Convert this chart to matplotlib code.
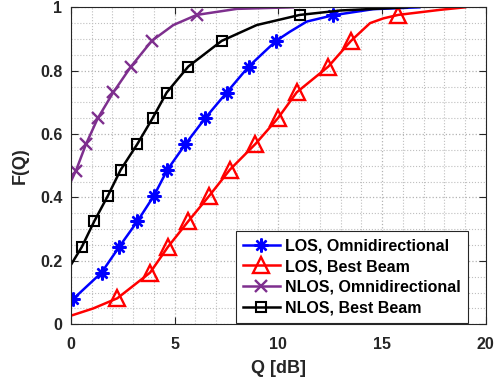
import matplotlib
matplotlib.use("Agg")
import matplotlib.pyplot as plt
from matplotlib.ticker import MultipleLocator


# CDF curves, Q in dB
los_omni_q = [0, 0.12, 1.48, 2.34, 3.21, 4.01, 4.65, 5.52, 6.47, 7.51, 8.57, 9.89, 10.56, 11.37, 12.65, 14.56, 16.8]
los_omni_f = [0.072, 0.080, 0.163, 0.245, 0.325, 0.406, 0.487, 0.568, 0.650, 0.731, 0.813, 0.894, 0.923, 0.955, 0.975, 0.994, 1.0]
los_omni_marks = [1, 2, 3, 4, 5, 6, 7, 8, 9, 10, 11, 14]

los_beam_q = [0, 1.08, 2.24, 3.82, 4.68, 5.66, 6.68, 7.67, 8.90, 9.98, 10.89, 12.41, 13.50, 14.42, 15.06, 15.78, 17.8, 19.0]
los_beam_f = [0.027, 0.050, 0.082, 0.163, 0.244, 0.325, 0.406, 0.488, 0.569, 0.650, 0.732, 0.813, 0.894, 0.950, 0.965, 0.976, 0.992, 1.0]
los_beam_marks = [2, 3, 4, 5, 6, 7, 8, 9, 10, 11, 12, 15]

nlos_omni_q = [0, 0.25, 0.73, 1.30, 2.05, 2.90, 3.90, 4.94, 6.07, 8.0, 10.7]
nlos_omni_f = [0.45, 0.485, 0.568, 0.650, 0.732, 0.813, 0.894, 0.944, 0.976, 0.995, 1.0]
nlos_omni_marks = [1, 2, 3, 4, 5, 6, 8]

nlos_beam_q = [0, 0.53, 1.13, 1.79, 2.40, 3.20, 3.94, 4.62, 5.66, 7.27, 8.96, 11.04, 13.0, 16.2]
nlos_beam_f = [0.187, 0.244, 0.325, 0.406, 0.487, 0.568, 0.650, 0.731, 0.813, 0.894, 0.944, 0.976, 0.99, 1.0]
nlos_beam_marks = [1, 2, 3, 4, 5, 6, 7, 8, 9, 11]

labels = ["LOS, Omnidirectional", "LOS, Best Beam", "NLOS, Omnidirectional", "NLOS, Best Beam"]
x_ticks = [0, 5, 10, 15, 20]
y_ticks = [0, 0.2, 0.4, 0.6, 0.8, 1]
y_tick_labels = ["0", "0.2", "0.4", "0.6", "0.8", "1"]

plt.rcParams["font.family"] = ["Liberation Sans", "DejaVu Sans"]
plt.rcParams["font.weight"] = "bold"
dark = (0.15, 0.15, 0.15)

fig = plt.figure(figsize=(5.04, 3.84), dpi=100)
ax = fig.add_axes([0.1405, 0.1555, 0.8234, 0.8255])

ax.plot(los_omni_q, los_omni_f, color="blue", lw=1.8, marker=(8, 2, 0), ms=10, mew=1.7,
        markevery=los_omni_marks, label=labels[0])
ax.plot(los_beam_q, los_beam_f, color="red", lw=1.8, marker="^", ms=12, mew=1.7, mfc="none",
        markevery=los_beam_marks, label=labels[1])
ax.plot(nlos_omni_q, nlos_omni_f, color=(0.494, 0.184, 0.556), lw=1.8, marker="x", ms=8, mew=1.7,
        markevery=nlos_omni_marks, label=labels[2])
ax.plot(nlos_beam_q, nlos_beam_f, color="black", lw=1.8, marker="s", ms=7.5, mew=1.5, mfc="none",
        markevery=nlos_beam_marks, label=labels[3])

ax.set_xlim(0, 20)
ax.set_ylim(0, 1)
ax.set_xticks(x_ticks)
ax.set_yticks(y_ticks)
ax.set_yticklabels(y_tick_labels)
ax.xaxis.set_minor_locator(MultipleLocator(1))
ax.yaxis.set_minor_locator(MultipleLocator(0.05))

# matlab style grid, dotted major and minor
ax.grid(which="major", color=(0.7, 0.7, 0.7), linestyle=":", lw=0.9)
ax.grid(which="minor", color=(0.75, 0.75, 0.75), linestyle=":", lw=0.8)
ax.set_axisbelow(True)

ax.tick_params(which="major", direction="in", length=5, width=0.8, top=True, right=True,
               labelsize=11.5, colors=dark, pad=6)
ax.tick_params(axis="x", which="major", pad=9)
ax.tick_params(which="minor", length=0)
for tl in ax.get_xticklabels() + ax.get_yticklabels():
    tl.set_fontweight("bold")
for sp in ax.spines.values():
    sp.set_color(dark)
    sp.set_linewidth(0.8)

ax.set_xlabel("Q [dB]", fontsize=13, fontweight="bold", color=dark, labelpad=6)
ax.set_ylabel("F(Q)", fontsize=13, fontweight="bold", color=dark, labelpad=8)

leg = ax.legend(loc="lower right", bbox_to_anchor=(0.958, 0.005), borderaxespad=0,
                fontsize=11.5, fancybox=False, framealpha=1, edgecolor=dark,
                labelspacing=0.36, handlelength=2.3, handletextpad=0.35, borderpad=0.45)
leg.get_frame().set_linewidth(0.8)
for t in leg.get_texts():
    t.set_fontweight("bold")

fig.savefig("out.png", dpi=100)
